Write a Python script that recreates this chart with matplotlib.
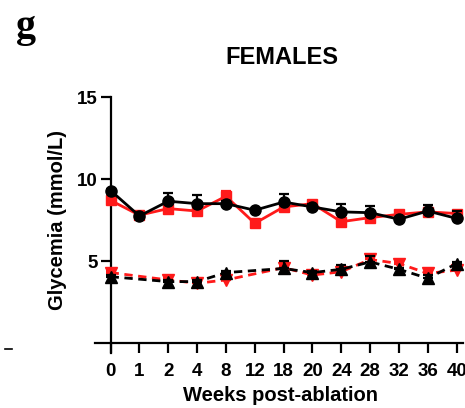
import numpy as np
import matplotlib
matplotlib.use("Agg")
import matplotlib.pyplot as plt
from matplotlib.lines import Line2D

plt.rcParams['font.family'] = ['Liberation Sans', 'DejaVu Sans']

weeks = ['0', '1', '2', '4', '8', '12', '18', '20', '24', '28', '32', '36', '40']

black_solid = [9.3, 7.75, 8.65, 8.5, 8.5, 8.1, 8.6, 8.3, 8.0, 7.95, 7.55, 8.05, 7.6]
black_solid_err = [0.1, 0.1, 0.5, 0.5, 0.15, 0.1, 0.47, 0.15, 0.5, 0.4, 0.1, 0.37, 0.45]
red_solid = [8.7, 7.8, 8.2, 8.05, 8.95, 7.3, 8.3, 8.5, 7.4, 7.65, 7.85, 8.0, 7.9]
red_solid_err = [0.1, 0.1, 0.1, 0.1, 0.35, 0.1, 0.1, 0.1, 0.1, 0.1, 0.1, 0.1, 0.1]

nan = np.nan
black_dashed = [4.05, nan, 3.75, 3.75, 4.3, nan, 4.55, 4.3, 4.5, 4.95, 4.5, 3.95, 4.85]
black_dashed_err = [0.1, nan, 0.1, 0.1, 0.1, nan, 0.45, 0.1, 0.25, 0.35, 0.1, 0.2, 0.1]
red_dashed = [4.3, nan, 3.85, 3.65, 3.85, nan, 4.6, 4.15, 4.35, 5.1, 4.85, 4.25, 4.45]
red_dashed_err = [0.1, nan, 0.1, 0.1, 0.1, nan, 0.1, 0.1, 0.1, 0.1, 0.1, 0.1, 0.1]

RED = '#ff1a1a'

fig = plt.figure(figsize=(4.65, 4.08), dpi=100)
ax = fig.add_axes([95/465, 1-353/408, 368/465, 256/408])

pos = np.arange(len(weeks))


def series(vals, errs, color, marker, ls, ms, z):
    v = np.array(vals, dtype=float)
    e = np.array(errs, dtype=float)
    m = ~np.isnan(v)
    x = pos[m]
    y = v[m]
    ee = e[m]
    ax.errorbar(x, y, yerr=[np.zeros_like(ee), ee], fmt='none', ecolor=color,
                elinewidth=1.6, capsize=3.3, capthick=1.6, zorder=z, clip_on=False)
    ax.plot(x, y, color=color, linestyle=ls, linewidth=2.0, marker=marker,
            markersize=ms, markerfacecolor=color, markeredgecolor=color,
            zorder=z + 0.5, clip_on=False, dashes=(3, 2) if ls == '--' else (None, None))


series(red_dashed, red_dashed_err, RED, 'v', '--', 8, 3)
series(black_dashed, black_dashed_err, 'black', '^', '--', 8, 4)
series(red_solid, red_solid_err, RED, 's', '-', 7.5, 5)
series(black_solid, black_solid_err, 'black', 'o', '-', 8, 6)

ax.set_xlim(-0.54, 12.22)
ax.set_ylim(-0.6, 15)
ax.spines['top'].set_visible(False)
ax.spines['right'].set_visible(False)
ax.spines['left'].set_position(('data', 0))
ax.spines['bottom'].set_position(('data', 0))
ax.spines['left'].set_bounds(-0.6, 15)
for s in ('left', 'bottom'):
    ax.spines[s].set_linewidth(1.6)
    ax.spines[s].set_zorder(1)

ax.set_xticks(pos)
ax.set_xticklabels(weeks)
ax.set_yticks([5, 10, 15])
ax.tick_params(axis='x', direction='out', length=7, width=1.6, pad=7,
               labelsize=13.5)
ax.tick_params(axis='y', direction='out', length=7, width=1.6, pad=2,
               labelsize=13.5)
for lab in ax.get_xticklabels() + ax.get_yticklabels():
    lab.set_fontweight('bold')

fig.text(280/465, 1-401/408, 'Weeks post-ablation', ha='center', va='baseline',
         fontsize=14.5, fontweight='bold')
fig.text(57.5/465, 1-220/408, 'Glycemia (mmol/L)', ha='center', va='center',
         rotation=90, fontsize=14.5, fontweight='bold')
fig.text(282/465, 1-63.5/408, 'FEMALES', ha='center', va='baseline',
         fontsize=17, fontweight='bold')
fig.text(16/465, 1-36.6/408, 'g', ha='left', va='baseline',
         fontsize=29, fontweight='bold', family=['Liberation Serif', 'DejaVu Serif'])

fig.add_artist(Line2D([5/465, 12/465], [1-349/408, 1-349/408], color='black',
                      linewidth=1.2))

fig.savefig('out.png', dpi=100)
